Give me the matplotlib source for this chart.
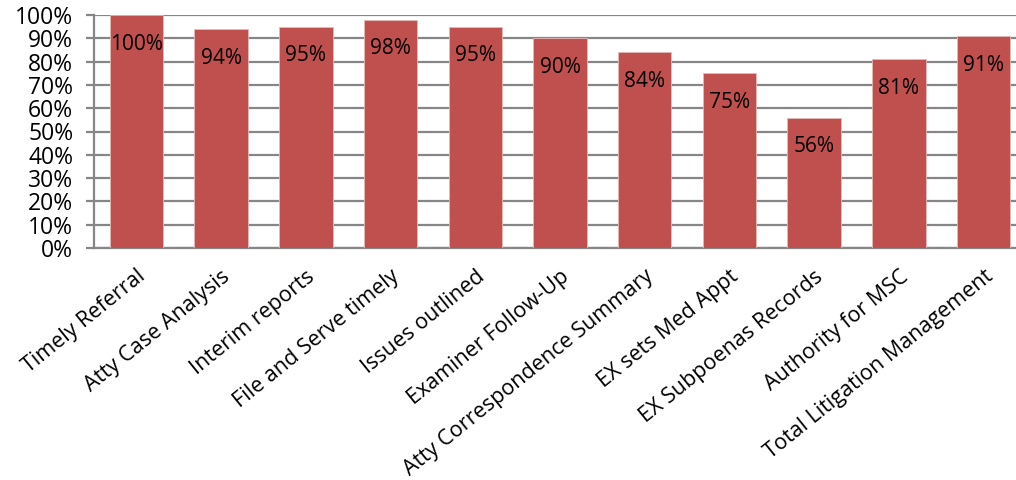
import matplotlib
matplotlib.use("Agg")
import matplotlib.pyplot as plt
from matplotlib.ticker import MultipleLocator, FuncFormatter

categories = [
    "Timely Referral", "Atty Case Analysis", "Interim reports",
    "File and Serve timely", "Issues outlined", "Examiner Follow-Up",
    "Atty Correspondence Summary", "EX sets Med Appt", "EX Subpoenas Records",
    "Authority for MSC", "Total Litigation Management",
]
values = [100, 94, 95, 98, 95, 90, 84, 75, 56, 81, 91]

plt.rcParams["font.family"] = ["Open Sans", "DejaVu Sans"]

fig = plt.figure(figsize=(10.16, 4.8), dpi=100)
ax = fig.add_axes([94 / 1016, 232 / 480, 932 / 1016, 233 / 480])

grid_color = "#868686"
x = list(range(len(categories)))
ax.bar(x, values, width=0.63, color="#C0504D", edgecolor="#E6B9B8",
       linewidth=0.6, zorder=3)

for xi, v in zip(x, values):
    ax.annotate(f"{v}%", (xi, v), xytext=(0, -21), textcoords="offset points",
                ha="center", va="center", fontsize=15, color="black", zorder=4)

ax.set_xlim(-0.5, len(categories) - 0.5)
ax.set_ylim(0, 100)
ax.yaxis.set_major_locator(MultipleLocator(10))
ax.yaxis.set_major_formatter(FuncFormatter(lambda v, p: f"{int(v)}%"))
ax.yaxis.grid(True, color=grid_color, linewidth=1.6, zorder=0)
ax.set_axisbelow(True)

for side in ("top", "right"):
    ax.spines[side].set_visible(False)
for side in ("left", "bottom"):
    ax.spines[side].set_color(grid_color)
    ax.spines[side].set_linewidth(1.6)

ax.tick_params(axis="y", length=6, width=1.6, color=grid_color,
               labelsize=16.5, pad=9)
ax.tick_params(axis="x", length=0, labelsize=15.5, pad=13)
ax.set_xticks(x)
ax.set_xticklabels(categories, rotation=39, ha="right", rotation_mode="anchor")

fig.savefig("out.png", dpi=100)
